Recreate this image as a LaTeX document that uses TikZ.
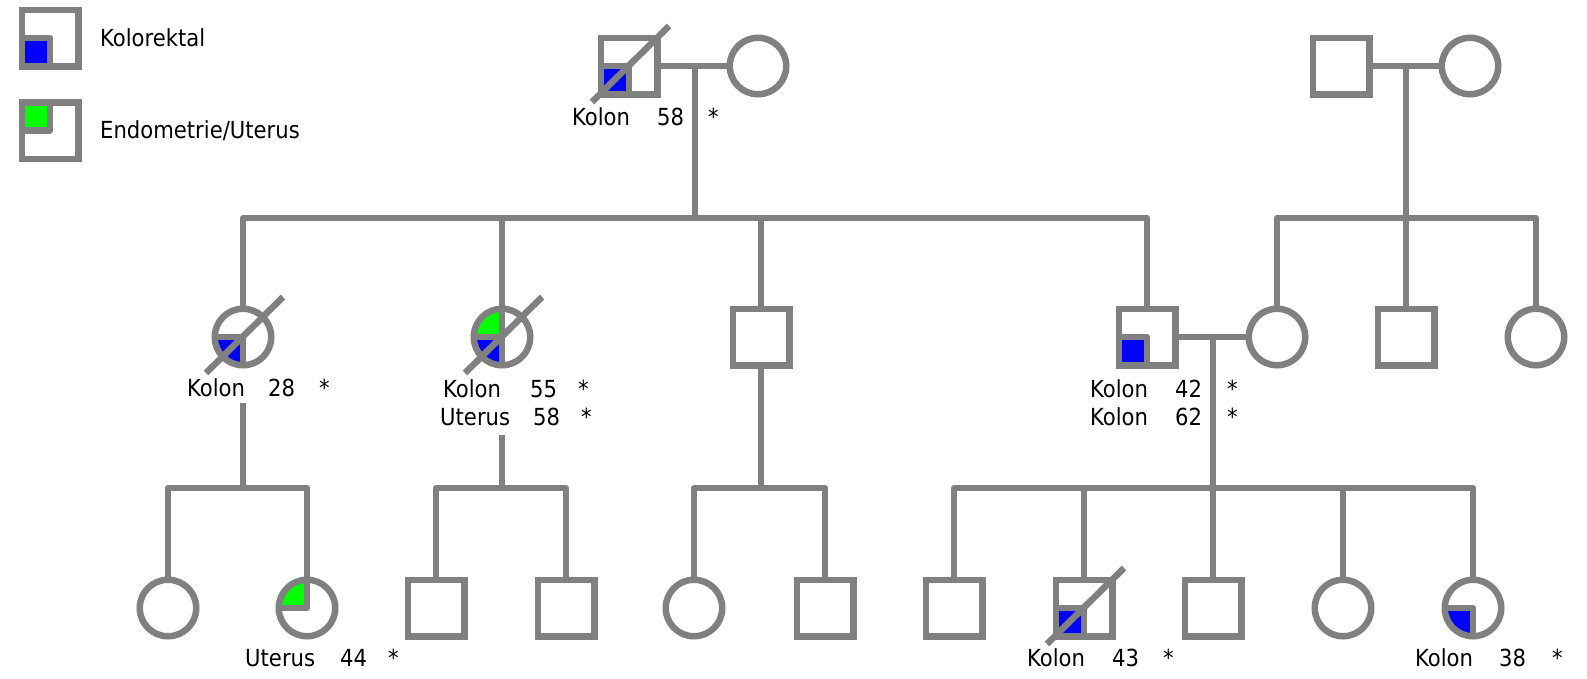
\documentclass[tikz,border=0pt]{standalone}
\usepackage{fontspec}
\setmainfont{DejaVu Sans Condensed}
\definecolor{pedgray}{RGB}{128,128,128}
\definecolor{colon}{RGB}{0,0,255}
\definecolor{uterus}{RGB}{0,255,0}
\begin{document}
\begin{tikzpicture}[x=1pt,y=-1pt,
  link/.style={draw=pedgray, line width=6.5pt, line join=round},
  sym/.style={draw=pedgray, line width=6.5pt, minimum size=56.5pt, inner sep=0pt},
  male/.style={sym, rectangle},
  female/.style={sym, circle},
  quad/.style={draw=pedgray, line width=6.5pt, line join=round},
  dead/.style={draw=pedgray, line width=6.5pt},
  lbl/.style={anchor=base west, inner sep=0pt, text=black, font=\fontsize{23.5}{28}\selectfont}
]
\useasboundingbox (0,0) rectangle (1587,678);

% ---------- legend ----------
\coordinate (k1) at (50,38);
\fill[colon] (k1) rectangle ++(-28.25,28.25);
\node[male] (key1) at (k1) {};
\draw[quad] (k1) ++(-28.25,0) -- ++(28.25,0) -- ++(0,28.25);
\node[lbl] (key1t) at (100,46) {Kolorektal};

\coordinate (k2) at (50,130.5);
\fill[uterus] (k2) rectangle ++(-28.25,-28.25);
\node[male] (key2) at (k2) {};
\draw[quad] (k2) ++(-28.25,0) -- ++(28.25,0) -- ++(0,-28.25);
\node[lbl] (key2t) at (100,138) {Endometrie/Uterus};

% ---------- generation I ----------
\coordinate (c11) at (629,66);
\fill[colon] (c11) rectangle ++(-28.25,28.25);
\node[male] (n11) at (c11) {};
\draw[quad] (c11) ++(-28.25,0) -- ++(28.25,0) -- ++(0,28.25);
\draw[dead] (c11) ++(-37,36) -- ++(77,-76);
\node[female] (n12) at (758,66) {};
\node[male] (n13) at (1341,66) {};
\node[female] (n14) at (1470,66) {};

\node[lbl] (t11a) at (572,125) {Kolon};
\node[lbl] (t11b) at (657,125) {58};
\node[lbl] (t11c) at (708,125) {*};

% ---------- generation II ----------
\coordinate (c21) at (243,337);
\fill[colon] (c21) -- ++(-28.25,0) arc[start angle=180, end angle=90, radius=28.25] -- cycle;
\node[female] (n21) at (c21) {};
\draw[quad] (c21) ++(-28.25,0) -- ++(28.25,0) -- ++(0,28.25);
\draw[dead] (c21) ++(-37,36) -- ++(77,-76);

\coordinate (c22) at (502,337);
\fill[colon] (c22) -- ++(-28.25,0) arc[start angle=180, end angle=90, radius=28.25] -- cycle;
\fill[uterus] (c22) -- ++(-28.25,0) arc[start angle=180, end angle=270, radius=28.25] -- cycle;
\node[female] (n22) at (c22) {};
\draw[quad] (c22) ++(-28.25,0) -- ++(28.25,0);
\draw[quad] (c22) ++(0,-28.25) -- ++(0,56.5);
\draw[dead] (c22) ++(-37,36) -- ++(77,-76);

\node[male] (n23) at (761,337) {};

\coordinate (c24) at (1147,337);
\fill[colon] (c24) rectangle ++(-28.25,28.25);
\node[male] (n24) at (c24) {};
\draw[quad] (c24) ++(-28.25,0) -- ++(28.25,0) -- ++(0,28.25);

\node[female] (n25) at (1277,337) {};
\node[male] (n26) at (1406,337) {};
\node[female] (n27) at (1536,337) {};

\node[lbl] (t21a) at (187,396) {Kolon};
\node[lbl] (t21b) at (268,396) {28};
\node[lbl] (t21c) at (319,396) {*};

\node[lbl] (t22a) at (443,397) {Kolon};
\node[lbl] (t22b) at (530,397) {55};
\node[lbl] (t22c) at (578,397) {*};
\node[lbl] (t22d) at (440,425) {Uterus};
\node[lbl] (t22e) at (533,425) {58};
\node[lbl] (t22f) at (581,425) {*};

\node[lbl] (t24a) at (1090,397) {Kolon};
\node[lbl] (t24b) at (1175,397) {42};
\node[lbl] (t24c) at (1227,397) {*};
\node[lbl] (t24d) at (1090,425) {Kolon};
\node[lbl] (t24e) at (1175,425) {62};
\node[lbl] (t24f) at (1227,425) {*};

% ---------- generation III ----------
\node[female] (n31) at (168,608) {};
\coordinate (c32) at (307,608);
\fill[uterus] (c32) -- ++(-28.25,0) arc[start angle=180, end angle=270, radius=28.25] -- cycle;
\node[female] (n32) at (c32) {};
\draw[quad] (c32) ++(-28.25,0) -- ++(28.25,0) -- ++(0,-28.25);
\node[male] (n33) at (436,608) {};
\node[male] (n34) at (566,608) {};
\node[female] (n35) at (694,608) {};
\node[male] (n36) at (825,608) {};
\node[male] (n37) at (954,608) {};
\coordinate (c38) at (1084,608);
\fill[colon] (c38) rectangle ++(-28.25,28.25);
\node[male] (n38) at (c38) {};
\draw[quad] (c38) ++(-28.25,0) -- ++(28.25,0) -- ++(0,28.25);
\draw[dead] (c38) ++(-37,36) -- ++(77,-76);
\node[male] (n39) at (1213,608) {};
\node[female] (n310) at (1343,608) {};
\coordinate (c311) at (1473,608);
\fill[colon] (c311) -- ++(-28.25,0) arc[start angle=180, end angle=90, radius=28.25] -- cycle;
\node[female] (n311) at (c311) {};
\draw[quad] (c311) ++(-28.25,0) -- ++(28.25,0) -- ++(0,28.25);

\node[lbl] (t32a) at (245,666) {Uterus};
\node[lbl] (t32b) at (340,666) {44};
\node[lbl] (t32c) at (388,666) {*};
\node[lbl] (t38a) at (1027,666) {Kolon};
\node[lbl] (t38b) at (1112,666) {43};
\node[lbl] (t38c) at (1163,666) {*};
\node[lbl] (t311a) at (1415,666) {Kolon};
\node[lbl] (t311b) at (1499,666) {38};
\node[lbl] (t311c) at (1552,666) {*};

% ---------- connectors ----------
% left founders and their children
\coordinate (m11) at (695,66);
\coordinate (s11) at (695,218);
\draw[link] (n11) -- (n12);
\draw[link] (m11) -- (s11);
\draw[link] (n21) |- (s11) -| (n24);
\draw[link] (s11 -| n22) -- (n22);
\draw[link] (s11 -| n23) -- (n23);

% right founders and their children
\coordinate (m13) at (1406,66);
\coordinate (s13) at (1406,218);
\draw[link] (n13) -- (n14);
\draw[link] (m13) -- (n26);
\draw[link] (n25) |- (s13) -| (n27);

% children of II-1
\coordinate (d21) at (243,403);
\coordinate (s21) at (243,488);
\draw[link] (d21) -- (s21);
\draw[link] (n31) |- (s21) -| (n32);

% children of II-2
\coordinate (d22) at (502,435);
\coordinate (s22) at (502,488);
\draw[link] (d22) -- (s22);
\draw[link] (n33) |- (s22) -| (n34);

% children of II-3
\coordinate (s23) at (761,488);
\draw[link] (n23) -- (s23);
\draw[link] (n35) |- (s23) -| (n36);

% couple II-4 / II-5 and their children
\coordinate (m24) at (1213,337);
\coordinate (s24) at (1213,488);
\draw[link] (n24) -- (n25);
\draw[link] (m24) -- (n39);
\draw[link] (n37) |- (s24) -| (n311);
\draw[link] (s24 -| n38) -- (n38);
\draw[link] (s24 -| n310) -- (n310);
\end{tikzpicture}
\end{document}
